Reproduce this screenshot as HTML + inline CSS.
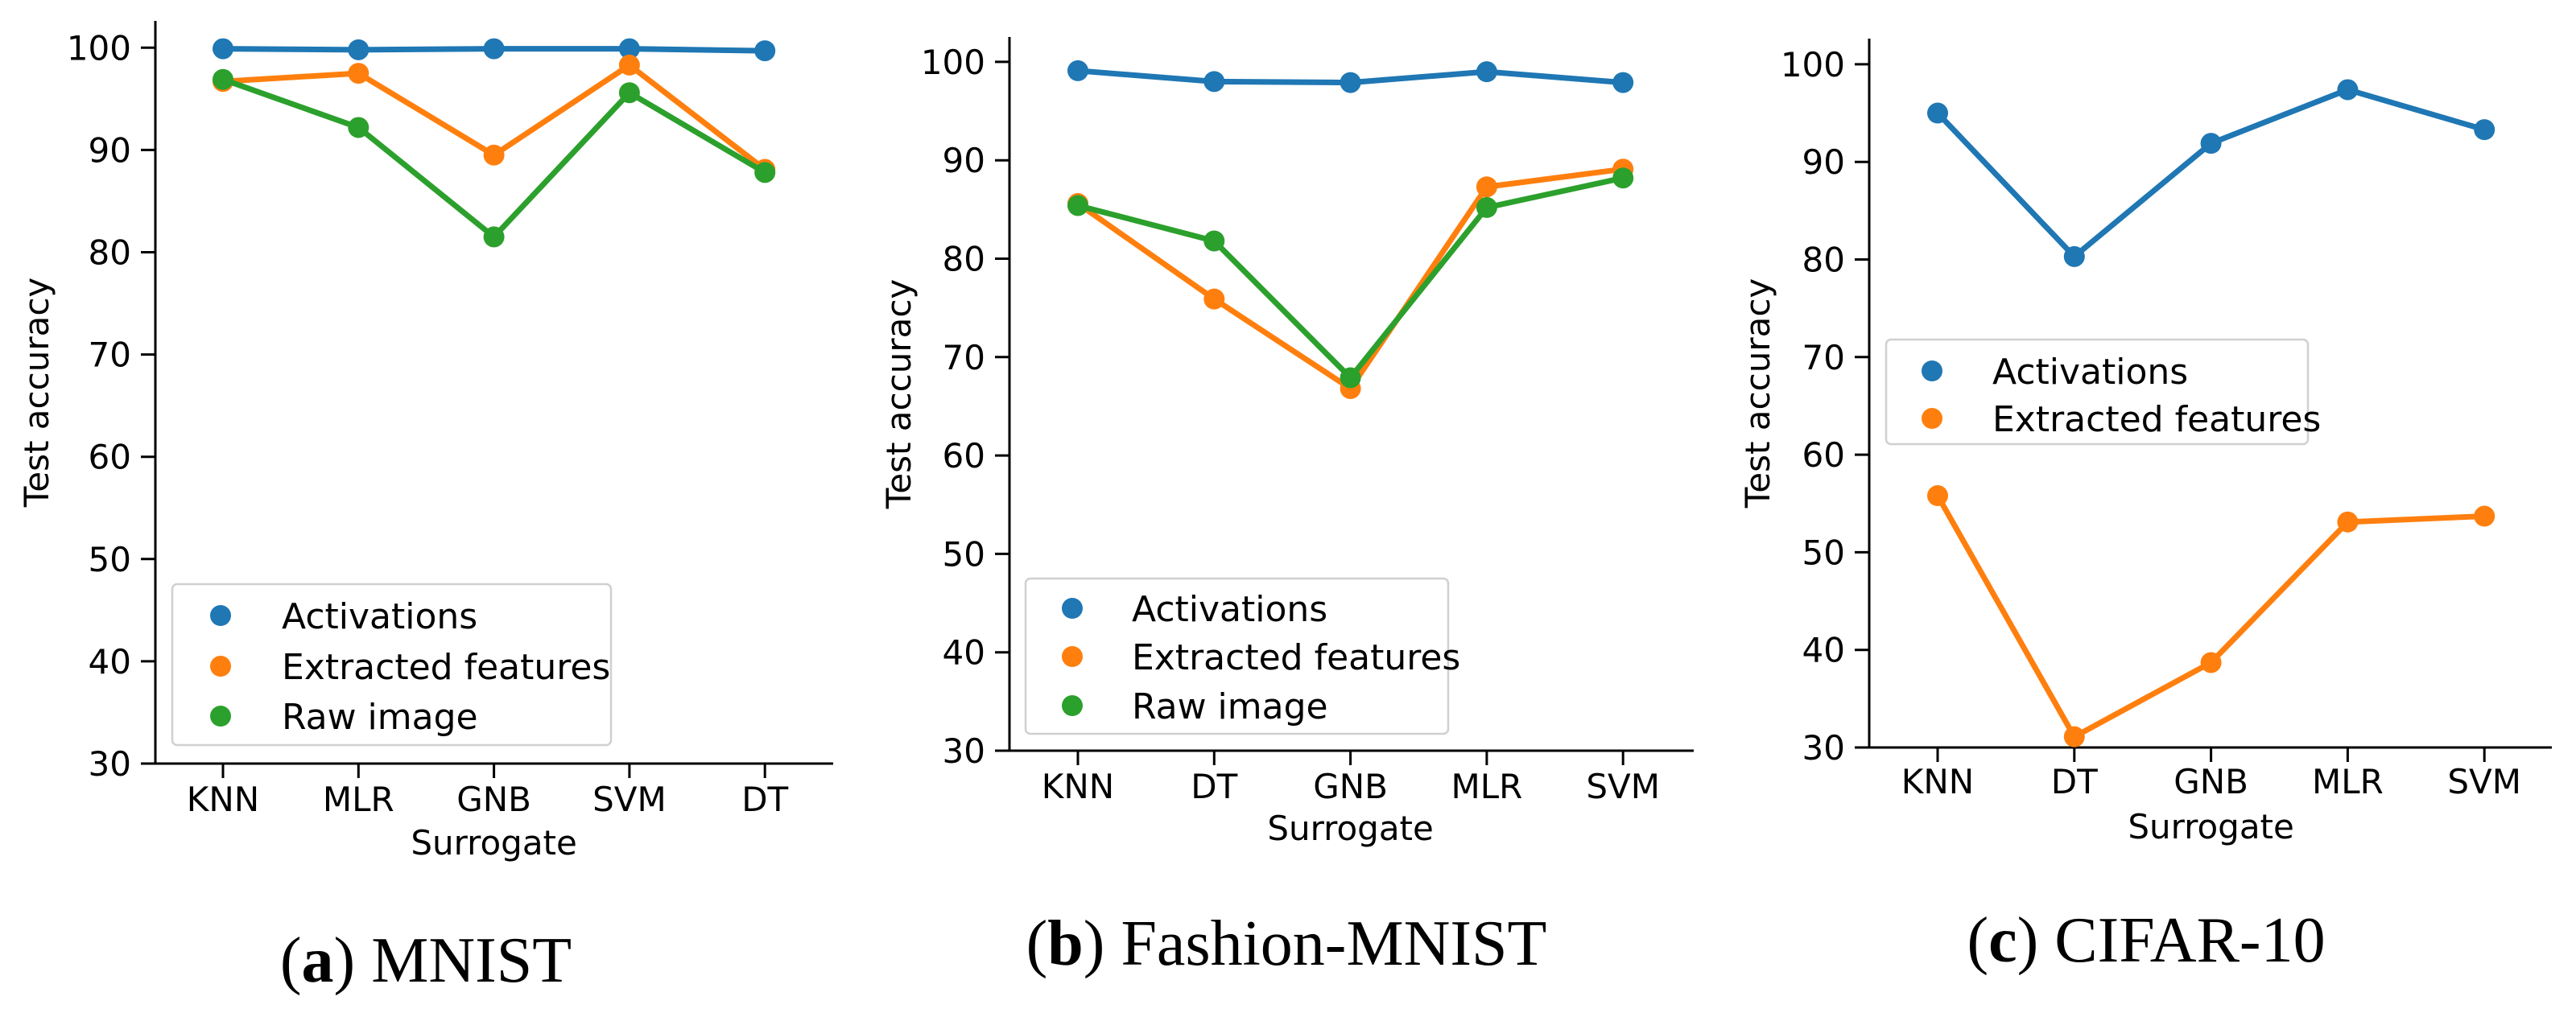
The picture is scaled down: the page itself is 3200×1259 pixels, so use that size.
<!DOCTYPE html>
<html><head><meta charset="utf-8"><style>
html,body{margin:0;padding:0;background:#fff;}
svg{display:block;}
.t{font-family:"DejaVu Sans","Liberation Sans",sans-serif;fill:#000;}
.cap{font-family:"Liberation Serif","DejaVu Serif",serif;fill:#000;}
</style></head><body>
<svg id="fig" xmlns="http://www.w3.org/2000/svg" width="3200" height="1259" viewBox="0 0 3200 1259"></svg>
<script>
// Panel A (MNIST)
const catsA = ["KNN","MLR","GNB","SVM","DT"];
const actA = [99.9, 99.8, 99.9, 99.9, 99.7];
const extA = [96.7, 97.5, 89.5, 98.3, 88.1];
const rawA = [96.9, 92.2, 81.5, 95.6, 87.8];
// Panel B (Fashion-MNIST)
const catsB = ["KNN","DT","GNB","MLR","SVM"];
const actB = [99.1, 98.0, 97.9, 99.0, 97.9];
const extB = [85.6, 75.9, 66.8, 87.3, 89.1];
const rawB = [85.4, 81.8, 67.9, 85.2, 88.2];
// Panel C (CIFAR-10)
const catsC = ["KNN","DT","GNB","MLR","SVM"];
const actC = [95.0, 80.3, 91.9, 97.4, 93.3];
const extC = [55.8, 31.1, 38.7, 53.1, 53.7];
const yTicks = [30,40,50,60,70,80,90,100];
const seriesNames = ["Activations","Extracted features","Raw image"];

const NS="http://www.w3.org/2000/svg";
const svg=document.getElementById('fig');
const COLORS=["#1f77b4","#ff7f0e","#2ca02c"];
function mk(tag,attrs,parent){const e=document.createElementNS(NS,tag);for(const k in attrs)e.setAttribute(k,attrs[k]);(parent||svg).appendChild(e);return e;}

function panel(cfg){
  const g=mk('g',{});
  
  
  const y=v=>cfg.y30-(v-30)*cfg.ppu;
  const x=i=>cfg.x0+i*cfg.step;
  const ax=mk('line',{x1:cfg.ax,y1:cfg.top,x2:cfg.ax,y2:cfg.y30+1.5,stroke:'#000','stroke-width':3},g);
  
  
  const bx=mk('line',{x1:cfg.ax-1.5,y1:cfg.y30,x2:cfg.xend,y2:cfg.y30,stroke:'#000','stroke-width':3},g);
  
  
  yTicks.forEach(v=>{
    mk('line',{x1:cfg.ax-18,y1:y(v),x2:cfg.ax,y2:y(v),stroke:'#000','stroke-width':3},g);
    const t=mk('text',{x:cfg.ax-30,y:y(v)+15,'text-anchor':'end','font-size':42,class:'t'},g);
    t.textContent=v;
    
    
  });
  cfg.cats.forEach((c,i)=>{
    mk('line',{x1:x(i),y1:cfg.y30,x2:x(i),y2:cfg.y30+18,stroke:'#000','stroke-width':3},g);
    const t=mk('text',{x:x(i),y:cfg.tickBase,'text-anchor':'middle','font-size':42,class:'t'},g);
    t.textContent=c;
    
    
  });
  const xl=mk('text',{x:(x(0)+x(cfg.cats.length-1))/2,y:cfg.xlBase,'text-anchor':'middle','font-size':42,class:'t'},g);
  xl.textContent='Surrogate';
  
  
  const yc=(cfg.top+cfg.y30)/2;
  const yl=mk('text',{x:cfg.ylx,y:yc,'text-anchor':'middle','font-size':42,class:'t',transform:`rotate(-90 ${cfg.ylx} ${yc})`},g);
  yl.textContent='Test accuracy';
  
  
  cfg.series.forEach((s,si)=>{
    const pts=s.map((v,i)=>x(i)+','+y(v)).join(' ');
    const pl=mk('polyline',{points:pts,fill:'none',stroke:COLORS[si],'stroke-width':7,'stroke-linejoin':'round'},g);
    
    
    s.forEach((v,i)=>{
      const c=mk('circle',{cx:x(i),cy:y(v),r:13,fill:COLORS[si]},g);
      
      
    });
  });
  const L=cfg.leg;
  const lg=mk('g',{},g);
  
  
  mk('rect',{x:L.x1,y:L.y1,width:L.x2-L.x1,height:L.y2-L.y1,rx:6,fill:'#fff','fill-opacity':0.8,stroke:'#d0d0d0','stroke-width':2.5},lg);
  L.ys.forEach((ly,i)=>{
    mk('circle',{cx:L.mx,cy:ly,r:13,fill:COLORS[i]},lg);
    const t=mk('text',{x:L.tx,y:ly+16,'font-size':44,class:'t'},lg);
    t.textContent=seriesNames[i];
    
    
  });
  const cap=mk('text',{x:cfg.capx,y:cfg.capBase,'text-anchor':'middle','font-size':80,class:'cap'},g);
  cap.innerHTML=cfg.cap;
  
  
}

panel({name:'panel-mnist',ax:193,top:26,y30:949,ppu:12.71,x0:277,step:168.3,xend:1035,cats:catsA,
  series:[actA,extA,rawA],tickBase:1008,xlBase:1062,ylx:60,
  leg:{x1:214,y1:726,x2:759,y2:926,ys:[765,828,890],mx:274,tx:350},
  capx:529,capBase:1220,cap:'(<tspan font-weight="bold">a</tspan>) MNIST'});
panel({name:'panel-fashion-mnist',ax:1254,top:46,y30:933,ppu:12.23,x0:1339,step:169.3,xend:2104,cats:catsB,
  series:[actB,extB,rawB],tickBase:992,xlBase:1044,ylx:1131,
  leg:{x1:1274,y1:719,x2:1799,y2:912,ys:[756,816,877],mx:1332,tx:1406},
  capx:1598,capBase:1199,cap:'(<tspan font-weight="bold">b</tspan>) Fashion-MNIST'});
panel({name:'panel-cifar10',ax:2322,top:48,y30:929,ppu:12.13,x0:2407,step:169.8,xend:3170,cats:catsC,
  series:[actC,extC],tickBase:986,xlBase:1042,ylx:2198,
  leg:{x1:2343,y1:422,x2:2867,y2:552,ys:[461,520],mx:2400,tx:2475},
  capx:2666,capBase:1195,cap:'(<tspan font-weight="bold">c</tspan>) CIFAR-10'});
</script>
</body></html>
